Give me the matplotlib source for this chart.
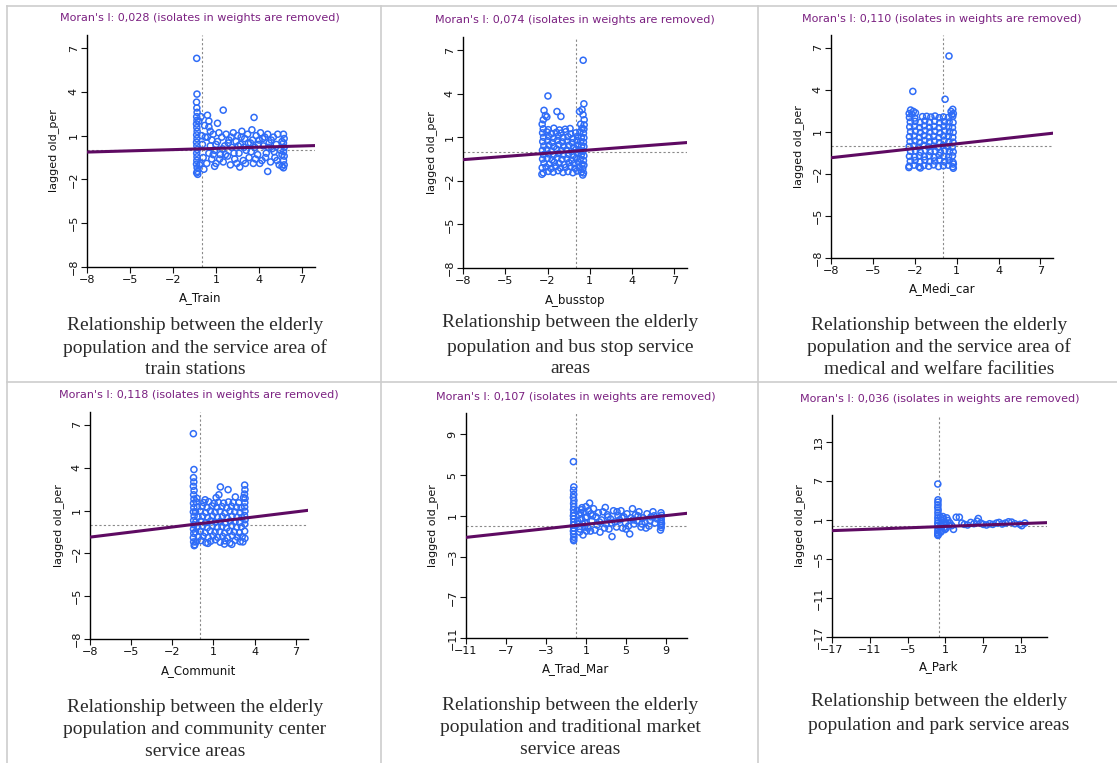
"""Moran scatter plots: elderly population vs. facility service areas (2x3 grid)."""

import matplotlib

matplotlib.use("Agg")
import matplotlib.pyplot as plt
import numpy as np
from matplotlib.lines import Line2D

W, H = 1117, 763

# ---- data ------------------------------------------------------------------
VAR_NAMES = ["A_Train", "A_busstop", "A_Medi_car", "A_Communit", "A_Trad_Mar", "A_Park"]
MORAN_I = [0.028, 0.074, 0.110, 0.118, 0.107, 0.036]
LINE_INTERCEPT = [0.10, 0.05, 0.03, 0.08, 0.06, -0.05]
AXIS_LIMITS = [(-8, 7.9), (-8, 7.9), (-8, 7.9), (-8, 7.9), (-11, 11.1), (-17, 17.1)]
TICKS = [
    [-8, -5, -2, 1, 4, 7],
    [-8, -5, -2, 1, 4, 7],
    [-8, -5, -2, 1, 4, 7],
    [-8, -5, -2, 1, 4, 7],
    [-11, -7, -3, 1, 5, 9],
    [-17, -11, -5, 1, 7, 13],
]
CAPTIONS = [
    ["Relationship between the elderly", "population and the service area of", "train stations"],
    ["Relationship between the elderly", "population and bus stop service", "areas"],
    ["Relationship between the elderly", "population and the service area of", "medical and welfare facilities"],
    ["Relationship between the elderly", "population and community center", "service areas"],
    ["Relationship between the elderly", "population and traditional market", "service areas"],
    ["Relationship between the elderly", "population and park service areas"],
]

train_x = [
    -0.35, -0.33, -0.36, -0.34, -0.32, -0.35, -0.33, -0.36, -0.34, -0.32,
    -0.35, -0.33, -0.36, -0.34, -0.31, -0.35, -0.33, -0.34, -0.36, -0.32,
    -0.30, -0.28, -0.35, -0.20, -0.15, -0.05, 0.00, 0.10, 0.20, 0.15,
    0.05, -0.10, 0.25, 0.40, 0.50, 0.50, 1.10, 1.50, 3.65, 2.65,
    4.60, 0.40, 0.60, 0.70, 0.80, 0.90, 1.00, 1.10, 1.20, 1.30,
    1.40, 1.50, 1.60, 1.70, 1.80, 1.90, 2.00, 2.10, 2.20, 2.30,
    2.40, 2.50, 2.60, 2.70, 2.80, 2.90, 3.00, 3.10, 3.20, 3.30,
    3.40, 3.50, 3.60, 3.70, 3.80, 3.90, 4.00, 4.10, 4.20, 4.30,
    4.40, 4.50, 4.60, 4.70, 4.80, 4.90, 5.00, 5.10, 5.20, 5.30,
    5.40, 5.50, 0.50, 0.70, 0.90, 1.00, 1.25, 1.45, 1.65, 1.85,
    2.05, 2.25, 2.45, 2.55, 2.75, 2.95, 3.05, 3.25, 3.45, 3.55,
    3.75, 3.95, 4.05, 4.25, 4.45, 4.65, 4.85, 5.05, 5.25, 0.35,
    0.60, 0.80, 5.70, 5.75, 5.70, 5.75, 5.70, 5.75, 5.70, 5.75,
    5.70, 5.60, 5.60, 5.60,
]
train_y = [
    6.30, 3.85, 3.30, 2.90, 2.60, 2.30, 2.05, 1.80, 1.55, 1.30,
    1.05, 0.80, 0.55, 0.30, 0.05, -0.20, -0.45, -0.70, -0.95, -1.20,
    -1.45, -1.65, -1.55, 2.00, -1.00, 2.30, 1.00, -0.50, 1.70, -1.30,
    0.40, -0.90, 0.90, 2.40, 2.00, 1.60, 1.85, 2.75, 2.25, -1.15,
    -1.45, 0.90, 0.30, -0.60, 1.10, 0.00, -0.90, 0.60, 1.20, -0.30,
    0.90, -0.80, 0.30, 1.10, -0.40, 0.70, -1.00, 0.20, 1.20, -0.60,
    0.60, 1.00, -0.20, 0.40, 1.30, -0.70, 0.80, 0.00, 1.10, -0.50,
    0.50, 1.40, -0.90, 0.20, 1.00, -0.30, 0.70, 1.20, -0.70, 0.30,
    0.90, -0.20, 1.10, 0.50, -0.80, 0.10, 0.90, -0.50, 0.40, 1.10,
    -1.00, 0.00, -0.20, 0.70, -1.10, 0.40, -0.60, 0.10, -0.30, 0.50,
    0.90, -0.20, -0.90, 0.30, 0.90, 0.20, -0.90, 0.50, -0.10, 0.70,
    -0.60, 0.40, -0.90, 0.80, -0.50, 0.20, 0.70, -0.10, -0.70, -0.90,
    1.30, -0.30, 1.10, 0.80, 0.50, 0.20, -0.10, -0.40, -0.70, -1.00,
    -1.20, 0.60, -0.30, -1.10,
]

bus_x = [
    -2.30, -1.95, -1.60, -1.25, -0.90, -0.55, -0.20, 0.10, 0.40, 0.55,
    -2.38, -2.10, -1.75, -1.42, -1.08, -0.72, -0.38, -0.05, 0.25, 0.50,
    -2.25, -1.88, -1.52, -1.18, -0.82, -0.48, -0.12, 0.18, 0.45, 0.58,
    -2.35, -2.02, -1.68, -1.32, -0.98, -0.62, -0.28, 0.05, 0.32, 0.55,
    -2.28, -1.92, -1.58, -1.22, -0.88, -0.52, -0.18, 0.12, 0.40, 0.58,
    -2.36, -2.05, -1.70, -1.35, -1.00, -0.65, -0.30, 0.02, 0.30, 0.52,
    -2.26, -1.90, -1.55, -1.20, -0.85, -0.50, -0.15, 0.15, 0.42, 0.58,
    -2.34, -2.00, -1.66, -1.30, -0.95, -0.60, -0.25, 0.08, 0.35, 0.55,
    -2.28, -1.93, -1.58, -1.24, -0.90, -0.55, -0.20, 0.12, 0.40, 0.58,
    -2.35, -2.04, -1.72, -1.38, -1.05, -0.70, -0.35, 0.00, 0.30, 0.55,
    -2.30, -1.95, -1.55, -1.15, -0.75, -0.40, 0.45, 0.58,
    -2.38, -2.30, -2.15, -2.25, -2.05, -1.97, -1.33, -1.05, 0.53, 0.58,
    0.45, 0.52, 0.60, 0.35, 0.27, 0.50, -2.40, 0.60,
]
bus_y = [
    -1.45, -1.35, -1.40, -1.30, -1.42, -1.36, -1.44, -1.32, -1.40, -1.46,
    -1.10, -1.05, -1.15, -1.00, -1.12, -1.08, -1.02, -1.14, -1.06, -1.18,
    -0.78, -0.85, -0.72, -0.80, -0.88, -0.75, -0.82, -0.70, -0.86, -0.92,
    -0.50, -0.45, -0.55, -0.42, -0.52, -0.48, -0.58, -0.44, -0.50, -0.60,
    -0.20, -0.15, -0.24, -0.12, -0.22, -0.18, -0.26, -0.10, -0.20, -0.28,
    0.10, 0.15, 0.05, 0.18, 0.08, 0.12, 0.02, 0.16, 0.10, 0.04,
    0.40, 0.45, 0.35, 0.48, 0.38, 0.44, 0.32, 0.46, 0.40, 0.36,
    0.70, 0.76, 0.64, 0.78, 0.68, 0.74, 0.62, 0.76, 0.70, 0.66,
    1.00, 1.06, 0.94, 1.08, 0.98, 1.04, 0.92, 1.06, 1.00, 0.96,
    1.30, 1.36, 1.24, 1.34, 1.28, 1.38, 1.22, 1.30, 1.36, 1.28,
    1.58, 1.52, 1.62, 1.50, 1.55, 1.60, 1.62, 1.56,
    1.90, 2.20, 2.50, 2.85, 2.40, 3.84, 2.77, 2.43, 6.30, 3.30,
    2.90, 2.55, 2.20, 1.90, 2.77, -1.60, -1.55, 1.85,
]

medi_x = [
    -2.40, -2.05, -1.70, -1.35, -1.00, -0.65, -0.30, 0.05, 0.40, 0.72,
    -2.32, -1.98, -1.62, -1.28, -0.92, -0.58, -0.22, 0.12, 0.46, 0.74,
    -2.38, -2.02, -1.66, -1.32, -0.96, -0.62, -0.26, 0.08, 0.42, 0.70,
    -2.30, -1.95, -1.60, -1.24, -0.90, -0.54, -0.18, 0.15, 0.48, 0.75,
    -2.40, -2.06, -1.72, -1.36, -1.02, -0.66, -0.32, 0.02, 0.36, 0.68,
    -2.34, -1.98, -1.64, -1.28, -0.94, -0.58, -0.24, 0.10, 0.44, 0.74,
    -2.38, -2.04, -1.68, -1.34, -0.98, -0.64, -0.28, 0.06, 0.40, 0.72,
    -2.30, -1.96, -1.60, -1.26, -0.92, -0.56, -0.20, 0.14, 0.48, 0.75,
    -2.36, -2.02, -1.66, -1.32, -0.96, -0.62, -0.26, 0.08, 0.42, 0.70,
    -2.32, -1.98, -1.62, -1.28, -0.94, -0.58, -0.22, 0.12, 0.46, 0.74,
    -2.38, -2.00, -1.45, -1.15, -0.85, -0.55, -0.25, 0.05, 0.40, 0.72,
    -2.40, -2.30, -2.20, -2.10, -1.95, -2.14, 0.45, 0.17, 0.60, 0.72,
    0.76, 0.65, 0.76, -2.42, 0.76, -1.60,
]
medi_y = [
    -1.45, -1.38, -1.50, -1.40, -1.46, -1.36, -1.48, -1.42, -1.38, -1.50,
    -1.10, -1.05, -1.16, -1.02, -1.12, -1.08, -1.00, -1.14, -1.06, -1.18,
    -0.75, -0.80, -0.70, -0.78, -0.72, -0.82, -0.68, -0.76, -0.80, -0.72,
    -0.40, -0.35, -0.45, -0.32, -0.42, -0.38, -0.46, -0.34, -0.40, -0.44,
    -0.05, 0.00, -0.10, 0.04, -0.08, -0.02, -0.12, 0.02, -0.06, -0.10,
    0.30, 0.35, 0.25, 0.38, 0.28, 0.34, 0.22, 0.36, 0.30, 0.26,
    0.65, 0.70, 0.60, 0.72, 0.62, 0.68, 0.58, 0.70, 0.66, 0.60,
    1.00, 1.05, 0.95, 1.08, 0.98, 1.04, 0.92, 1.06, 1.00, 0.96,
    1.35, 1.40, 1.30, 1.42, 1.32, 1.38, 1.28, 1.40, 1.34, 1.30,
    1.70, 1.74, 1.66, 1.78, 1.68, 1.76, 1.64, 1.72, 1.70, 1.66,
    2.02, 1.98, 2.08, 2.10, 2.05, 2.12, 2.00, 2.06, 2.02, 2.10,
    2.30, 2.55, 2.25, 2.45, 2.35, 3.88, 6.40, 3.32, 2.45, 2.60,
    2.30, 2.20, -1.60, -1.55, -1.30, -1.58,
]

comm_x = [
    -0.46, -0.42, -0.45, -0.43, -0.46, -0.41, -0.44, -0.42, -0.45, -0.43,
    -0.46, -0.41, -0.44, -0.42, -0.45, -0.43, -0.46, -0.44, -0.40, -0.36,
    -0.25, 0.10, 0.45, 0.80, 1.15, 1.50, 1.85, 2.20, 2.60, 2.95,
    -0.10, 0.25, 0.62, 0.98, 1.32, 1.68, 2.02, 2.38, 2.75, 3.10,
    -0.30, 0.05, 0.40, 0.76, 1.12, 1.46, 1.82, 2.18, 2.52, 2.90,
    -0.15, 0.20, 0.56, 0.92, 1.28, 1.62, 1.98, 2.34, 2.70, 3.05,
    -0.28, 0.08, 0.44, 0.80, 1.14, 1.50, 1.86, 2.22, 2.58, 2.92,
    -0.12, 0.22, 0.58, 0.94, 1.30, 1.66, 2.00, 2.36, 2.72, 3.08,
    -0.30, 0.05, 0.42, 0.78, 1.12, 1.48, 1.84, 2.20, 2.56, 2.94,
    -0.18, 0.18, 0.55, 0.90, 1.26, 1.62, 1.98, 2.32, 2.68, 3.02,
    -0.25, 0.30, 0.65, 1.05, 1.35, 1.75, 2.10, 2.45, 2.85,
    3.28, 3.30, 3.27, 3.31, 3.29, 3.28, 3.30, 3.27, 3.31, 3.29,
    3.28, 3.30, 3.15, 3.20,
    1.51, 2.07, 1.40, 2.60, 2.34, 1.20, 0.40, 0.60, 1.80, -0.20,
]
comm_y = [
    6.38, 3.87, 3.30, 3.00, 2.70, 2.40, 2.10, 1.80, 1.50, 1.20,
    0.90, 0.60, 0.30, 0.00, -0.30, -0.60, -0.90, -1.20, -1.46, -1.40,
    -1.20, -1.10, -1.25, -1.15, -1.05, -1.22, -1.12, -1.28, -1.08, -1.18,
    -0.85, -0.80, -0.90, -0.78, -0.88, -0.82, -0.92, -0.76, -0.86, -0.84,
    -0.50, -0.45, -0.55, -0.42, -0.52, -0.48, -0.58, -0.44, -0.50, -0.56,
    -0.15, -0.10, -0.20, -0.08, -0.18, -0.12, -0.22, -0.06, -0.16, -0.14,
    0.20, 0.25, 0.15, 0.28, 0.18, 0.24, 0.12, 0.26, 0.20, 0.16,
    0.55, 0.60, 0.50, 0.62, 0.52, 0.58, 0.48, 0.60, 0.54, 0.50,
    0.90, 0.95, 0.85, 0.98, 0.88, 0.94, 0.82, 0.96, 0.90, 0.86,
    1.25, 1.30, 1.20, 1.32, 1.22, 1.28, 1.18, 1.30, 1.24, 1.20,
    1.60, 1.55, 1.62, 1.50, 1.58, 1.52, 1.60, 1.56, 1.54,
    2.78, 2.45, 2.15, 1.85, 1.55, 1.25, 0.95, 0.65, 0.35, 0.05,
    -0.45, -0.95, -1.20, 1.90,
    2.65, 2.46, 2.10, 1.95, -1.37, 1.90, 1.75, -1.30, -1.35, 1.85,
]

market_x = [
    -0.26, -0.22, -0.25, -0.23, -0.26, -0.21, -0.24, -0.22, -0.25, -0.23,
    -0.26, -0.24, -0.22, -0.25, -0.23, -0.26, -0.24, -0.21, -0.25, -0.23,
    0.10, 0.20, 0.30, 0.40, 0.50, 0.60, 0.70, 0.80, 0.90, 1.00,
    1.10, 1.20, 1.36, 1.50, 1.60, 1.75, 1.90, 2.00, 2.10, 2.25,
    2.40, 2.55, 2.70, 2.93, 3.00, 3.15, 3.30, 3.45, 3.60, 3.75,
    3.90, 4.05, 4.20, 4.35, 4.50, 4.65, 4.80, 4.95, 5.10, 5.25,
    5.37, 5.50, 5.65, 5.80, 5.95, 6.10, 6.30, 6.50, 6.70, 6.90,
    7.10, 7.30, 7.50, 7.70, 7.90, 8.10, 0.35, 0.55, 0.85, 1.25,
    1.45, 1.65, 2.35, 2.85, 3.20, 3.55, 4.10, 4.60, 5.00, 5.70,
    6.20, 6.60, 7.00, 7.40, 7.80, 0.15, 0.65, 1.05, 0.45, 0.95,
    8.50, 8.55, 8.48, 8.52, 8.50, 8.55, 8.48, 8.52, 8.45,
]
market_y = [
    6.32, 3.84, 3.50, 3.10, 2.80, 2.50, 2.20, 1.90, 1.60, 1.30,
    1.00, 0.70, 0.40, 0.10, -0.20, -0.50, -0.80, -1.10, -1.30, -1.44,
    1.50, 0.20, 1.10, -0.30, 0.70, 1.80, -0.88, 1.40, 0.30, 1.90,
    0.90, -0.20, 2.25, 1.20, 0.50, 1.70, -0.40, 0.90, 0.10, 1.30,
    -0.60, 0.60, 1.40, 1.82, 0.20, 1.10, -0.30, 0.70, -1.04, 1.50,
    0.40, -0.10, 1.00, 0.60, 1.50, -0.20, 0.90, 0.30, 1.20, 0.00,
    -0.78, 0.80, 1.70, 0.20, 1.10, 0.50, 1.40, -0.10, 0.80, 0.40,
    1.20, 0.00, 0.90, 1.40, 0.30, 0.70, -0.60, 1.60, -0.10, 1.50,
    -0.50, 1.00, 0.40, -0.20, 0.90, 0.30, 1.40, 0.80, -0.30, 0.60,
    1.00, 0.20, -0.20, 0.50, 1.00, 0.50, 0.20, -0.50, 1.30, 0.80,
    1.30, 1.05, 0.85, 0.65, 0.45, 0.25, 0.05, -0.15, -0.40,
]

park_x = [
    -0.22, -0.18, -0.21, -0.19, -0.22, -0.17, -0.20, -0.18, -0.21, -0.19,
    -0.22, -0.20, -0.18, -0.21, -0.19, -0.22, -0.20, -0.17,
    0.20, 0.40, 0.50, 0.68, 0.80, 1.00, 0.30, 0.60, 0.90, 1.20,
    1.50, 0.25, 0.45, 0.75, 1.10, 1.40, 1.70, 2.00,
    2.27, 2.70, 3.20, 3.60, 4.00, 4.50, 5.00, 5.50, 6.00, 6.20,
    6.60, 7.00, 7.50, 8.00, 8.50, 9.10, 9.50, 10.5, 11.0, 11.5,
    12.0, 13.1, 13.6, 12.8, 10.0,
]
park_y = [
    6.50, 4.07, 3.70, 3.30, 2.90, 2.50, 2.10, 1.70, 1.30, 0.90,
    0.50, 0.10, -0.30, -0.70, -1.00, -1.20, -1.40, -1.30,
    1.40, -0.60, 0.90, 1.16, -0.20, 0.60, 0.30, 1.50, -0.50, 1.30,
    0.20, -0.90, 0.00, 0.40, -0.30, 0.90, 0.50, 0.10,
    -0.47, 1.40, 1.40, 0.50, 0.30, 0.20, 0.60, 0.40, 0.80, 1.20,
    0.50, 0.30, 0.20, 0.40, 0.30, 0.50, 0.60, 0.50, 0.70, 0.65,
    0.40, 0.10, 0.50, 0.30, 0.35,
]

POINTS_X = [train_x, bus_x, medi_x, comm_x, market_x, park_x]
POINTS_Y = [train_y, bus_y, medi_y, comm_y, market_y, park_y]

# ---- layout (pixel boxes: left, top, right, bottom) --------------------------
AX_BOXES = [
    (87, 35, 315, 267), (463, 37, 687, 268), (831, 35, 1053, 258),
    (90, 412, 308, 639), (466, 413, 687, 638), (832, 415, 1047, 637),
]
TITLE_POS = [(200, 18), (575, 20), (942, 19), (199, 395), (576, 397), (940, 399)]
XLABEL_POS = [(200, 298), (575, 300), (942, 289), (199, 671), (576, 669), (939, 667)]
YLABEL_X = [54, 432, 799, 59, 433, 800]
CAPTION_POS = [
    (195, [325, 348, 370]), (570, [323, 347, 369]), (939, [325, 347, 370]),
    (195, [707, 730, 752]), (570, [705, 728, 750]), (939, [702, 725]),
]

POINT_COLOR = "#2f6cf7"
LINE_COLOR = "#5e0a62"
TITLE_COLOR = "#7b2181"
BORDER_COLOR = "#cdcdcd"


def fx(px):
    return px / W


def fy(py):
    return 1 - py / H


fig = plt.figure(figsize=(W / 100, H / 100), dpi=100)
fig.patch.set_facecolor("white")

# table grid lines
for x0, y0, x1, y1 in [(7, 6, 7, H), (381, 6, 381, H), (758, 6, 758, H),
                       (7, 6, W, 6), (7, 382, W, 382)]:
    fig.add_artist(Line2D([fx(x0), fx(x1)], [fy(y0), fy(y1)], transform=fig.transFigure,
                          color=BORDER_COLOR, linewidth=1.2))

for i in range(6):
    left, top, right, bottom = AX_BOXES[i]
    ax = fig.add_axes([fx(left), fy(bottom), (right - left) / W, (bottom - top) / H])
    lo, hi = AXIS_LIMITS[i]

    ax.axvline(0, color="#8a8a8a", linestyle=(0, (2, 2)), linewidth=0.8, zorder=1)
    ax.axhline(0, color="#8a8a8a", linestyle=(0, (2, 2)), linewidth=0.8, zorder=1)
    ax.scatter(POINTS_X[i], POINTS_Y[i], s=19, facecolors="none",
               edgecolors=POINT_COLOR, linewidths=1.1, zorder=2)
    xs = np.array([lo, hi])
    ax.plot(xs, MORAN_I[i] * xs + LINE_INTERCEPT[i], color=LINE_COLOR, linewidth=2.2, zorder=3)

    ax.set_xlim(lo, hi)
    ax.set_ylim(lo, hi)
    ax.set_xticks(TICKS[i])
    ax.set_yticks(TICKS[i])
    ax.set_xticklabels([str(t).replace("-", "\u2212") for t in TICKS[i]])
    ax.set_yticklabels([str(t).replace("-", "\u2212") for t in TICKS[i]],
                       rotation=90, va="center")
    ax.tick_params(direction="out", length=4, width=0.8, labelsize=8, pad=2, colors="#111111")
    ax.spines["top"].set_visible(False)
    ax.spines["right"].set_visible(False)
    ax.spines["left"].set_linewidth(1.0)
    ax.spines["bottom"].set_linewidth(1.0)

    label = f"{MORAN_I[i]:.3f}".replace(".", ",")
    tx, ty = TITLE_POS[i]
    fig.text(fx(tx), fy(ty), f"Moran's I: {label} (isolates in weights are removed)",
             ha="center", va="center", fontsize=8, color=TITLE_COLOR)
    lx, ly = XLABEL_POS[i]
    fig.text(fx(lx), fy(ly), VAR_NAMES[i], ha="center", va="center", fontsize=8.5,
             color="#111111")
    fig.text(fx(YLABEL_X[i]), fy((top + bottom) / 2), "lagged old_per", ha="center",
             va="center", rotation=90, fontsize=8, color="#111111")

    cx, ys = CAPTION_POS[i]
    for line, cy in zip(CAPTIONS[i], ys):
        fig.text(fx(cx), fy(cy), line, ha="center", va="center", fontsize=14,
                 family="Liberation Serif", color="#2a2a2a")

fig.savefig("out.png", dpi=100)
